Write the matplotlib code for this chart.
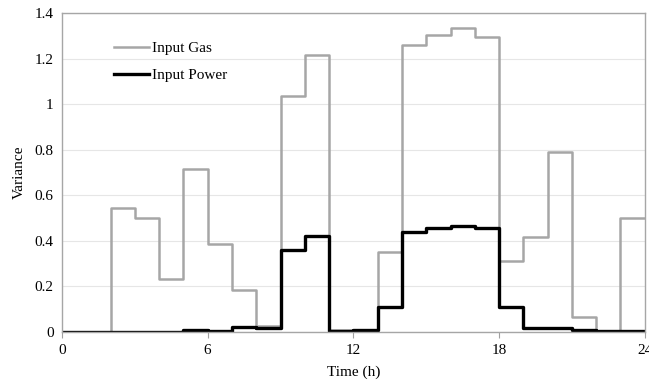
import numpy as np
import matplotlib.pyplot as plt

plt.rcParams['font.family'] = ['Liberation Serif', 'DejaVu Serif']

hours = np.arange(25)
gas = [0.0, 0.0, 0.545, 0.50, 0.23, 0.715, 0.385, 0.185, 0.025, 1.035,
       1.215, 0.01, 0.01, 0.35, 1.26, 1.305, 1.335, 1.295, 0.31, 0.415,
       0.79, 0.065, 0.0, 0.50]
power = [0.0, 0.0, 0.0, 0.0, 0.0, 0.008, 0.002, 0.02, 0.015, 0.36,
         0.42, 0.005, 0.01, 0.11, 0.44, 0.455, 0.465, 0.455, 0.11, 0.015,
         0.015, 0.01, 0.004, 0.004]
xticks = [0, 6, 12, 18, 24]
yticks = [0, 0.2, 0.4, 0.6, 0.8, 1.0, 1.2, 1.4]
ytick_labels = ['0', '0.2', '0.4', '0.6', '0.8', '1', '1.2', '1.4']

fig = plt.figure(figsize=(6.49, 3.85), dpi=100)
ax = fig.add_axes([0.0955, 0.138, 0.898, 0.828])

ax.step(hours, gas + [gas[-1]], where='post', color='#a6a6a6', lw=1.8, label='Input Gas')
ax.step(hours, power + [power[-1]], where='post', color='black', lw=2.4, label='Input Power')

ax.set_xlim(0, 24)
ax.set_ylim(0, 1.4)
ax.set_xticks(xticks)
ax.set_yticks(yticks)
ax.set_yticklabels(ytick_labels)
ax.tick_params(axis='y', length=0, labelsize=11, pad=6)
ax.tick_params(axis='x', length=4, color='#a0a0a0', labelsize=11, pad=5)
ax.yaxis.grid(True, color='#e6e6e6', lw=0.8)
ax.set_axisbelow(True)
for s in ax.spines.values():
    s.set_color('#a6a6a6')
    s.set_linewidth(1.0)

ax.set_xlabel('Time (h)', fontsize=11, labelpad=6)
ax.set_ylabel('Variance', fontsize=11, labelpad=6)

ax.legend(loc='upper left', bbox_to_anchor=(0.065, 0.955), frameon=False,
          fontsize=11, handlelength=2.3, handletextpad=0.2, labelspacing=0.9)

fig.savefig('out.png', dpi=100)
